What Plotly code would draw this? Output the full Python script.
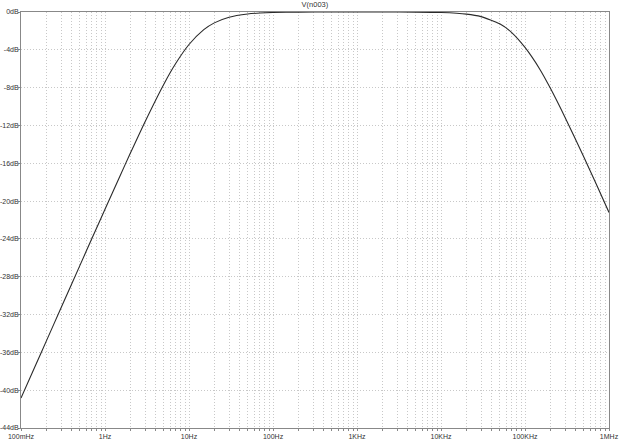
import plotly.graph_objects as go

# Frequency (Hz) and magnitude (dB)
freq_hz = [0.1, 0.15, 0.2, 0.3, 0.5, 0.7, 1, 1.5, 2, 3, 5, 7, 10, 15, 20, 30, 50, 70,
           100, 200, 500, 1000, 2000, 5000, 10000, 20000, 30000, 50000, 70000,
           100000, 150000, 200000, 300000, 500000, 700000, 1000000]
mag_db = [-40.83, -37.31, -34.81, -31.29, -26.85, -23.94, -20.86, -17.39, -14.95,
          -11.60, -7.66, -5.40, -3.44, -1.87, -1.15, -0.55, -0.21, -0.11,
          -0.05, -0.01, 0.0, 0.0, 0.0, -0.01, -0.06, -0.22, -0.49, -1.25, -2.2,
          -3.75, -6.05, -8.05, -11.15, -15.3, -18.15, -21.2]

title_text = "V(n003)"

decade_vals = [0.1, 1, 10, 100, 1e3, 1e4, 1e5, 1e6]
decade_labels = ["100mHz", "1Hz", "10Hz", "100Hz", "1KHz", "10KHz", "100KHz", "1MHz"]

y_tick_vals = [0, -4, -8, -12, -16, -20, -24, -28, -32, -36, -40, -44]
y_tick_labels = ["0dB", "-4dB", "-8dB", "-12dB", "-16dB", "-20dB", "-24dB", "-28dB",
                 "-32dB", "-36dB", "-40dB", "-44dB"]

# build x ticks: decades labelled, 2..9 unlabeled
x_tick_vals = []
x_tick_text = []
for i, d in enumerate(decade_vals):
    x_tick_vals.append(d)
    x_tick_text.append(decade_labels[i])
    if i < len(decade_vals) - 1:
        for m in range(2, 10):
            x_tick_vals.append(d * m)
            x_tick_text.append("")

fig = go.Figure()
fig.add_trace(go.Scatter(
    x=freq_hz, y=mag_db, mode="lines",
    line=dict(color="#2a2a2a", width=1.1, shape="spline", smoothing=0.6),
    showlegend=False, hoverinfo="skip"))

font = dict(family="Liberation Sans, Arial, sans-serif", size=7, color="#333333")
grid_color = "#c8c8c8"
grid_dash = "1px,2px"

fig.update_layout(
    width=620, height=441,
    margin=dict(l=21, r=11, t=12, b=13, autoexpand=False),
    paper_bgcolor="white", plot_bgcolor="white",
    font=font,
    title=dict(text=title_text, x=0.508, xanchor="center", y=0.989, yanchor="middle",
               font=dict(family="Liberation Sans, Arial, sans-serif", size=7.5, color="#333333")),
)

fig.update_xaxes(
    type="log", range=[-1, 6], automargin=False,
    tickmode="array", tickvals=x_tick_vals, ticktext=x_tick_text,
    ticks="outside", ticklen=2, tickcolor="#888888", tickwidth=1,
    showgrid=True, gridcolor=grid_color, griddash=grid_dash, gridwidth=1,
    showline=True, linecolor="#888888", linewidth=1, mirror=True,
    zeroline=False, tickfont=font,
)
fig.update_yaxes(
    range=[-44, 0], automargin=False,
    tickmode="array", tickvals=y_tick_vals, ticktext=y_tick_labels,
    ticks="outside", ticklen=2, tickcolor="#888888", tickwidth=1,
    ticklabelstandoff=-2,
    showgrid=True, gridcolor=grid_color, griddash=grid_dash, gridwidth=1,
    showline=True, linecolor="#888888", linewidth=1, mirror=True,
    zeroline=False, tickfont=font,
)

fig.write_html(
    "out.html",
    config={"displayModeBar": False},
    post_script="document.body.style.margin='0';document.body.style.overflow='hidden';",
)
